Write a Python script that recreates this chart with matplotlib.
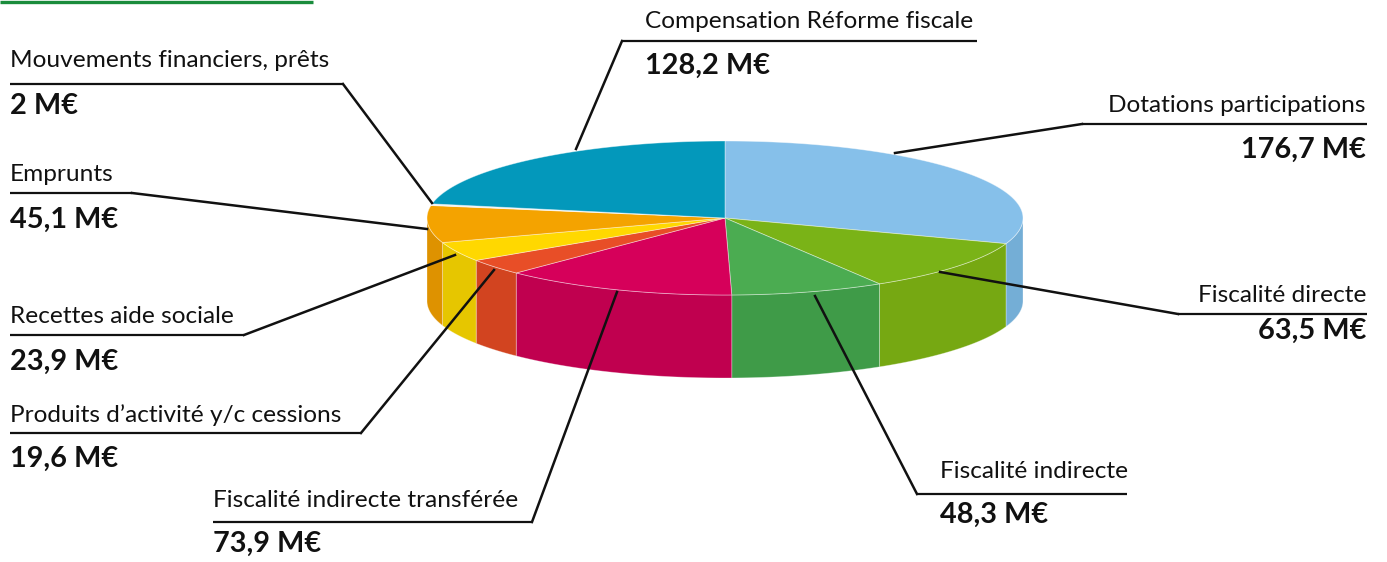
import matplotlib
matplotlib.use('Agg')
import matplotlib.pyplot as plt
import numpy as np
from matplotlib.patches import Polygon

# ---------------- data ----------------
categories = ["Dotations participations", "Fiscalité directe", "Fiscalité indirecte",
              "Fiscalité indirecte transférée", "Produits d’activité y/c cessions",
              "Recettes aide sociale", "Emprunts", "Mouvements financiers, prêts",
              "Compensation Réforme fiscale"]
values = [176.7, 63.5, 48.3, 73.9, 19.6, 23.9, 45.1, 2.0, 128.2]
value_labels = ["176,7 M€", "63,5 M€", "48,3 M€", "73,9 M€", "19,6 M€",
                "23,9 M€", "45,1 M€", "2 M€", "128,2 M€"]
top_colors = ["#86C0EA", "#7AB317", "#4BAC51", "#D6005A", "#E84E27",
              "#FFD800", "#F4A300", "#F2F2F2", "#0398BB"]
side_colors = ["#74AED6", "#76A812", "#3F9B48", "#C0004F", "#D24420",
               "#E6C600", "#DE9200", "#DDDDDD", "#02809E"]

# ---------------- layout ----------------
W, H = 1387, 562
cx, cy, rx, ry, depth = 725, 218, 298, 77, 83

# label layout: (text x, label baseline, value baseline, ha, underline x0, x1, underline y, anchor)
layout = [
    (1366, 112, 158, 'right', 1082, 1367, 124, (895, 153)),
    (1366, 302, 339, 'right', 1178, 1367, 314, (940, 272)),
    (940, 478, 523, 'left', 917, 1127, 494, (815, 296)),
    (213, 507, 552, 'left', 213, 532, 522, (617, 292)),
    (10, 422, 467, 'left', 10, 361, 433, (494, 270)),
    (10, 323, 370, 'left', 10, 244, 335, (455, 255)),
    (10, 181, 228, 'left', 10, 132, 193, (427, 229)),
    (10, 67, 114, 'left', 10, 343, 84, (432, 203)),
    (645, 28, 74, 'left', 622, 977, 41, (576, 149)),
]

fig = plt.figure(figsize=(W / 100, H / 100), dpi=100)
ax = fig.add_axes([0, 0, 1, 1])
ax.set_xlim(0, W)
ax.set_ylim(H, 0)
ax.axis('off')

total = float(sum(values))
cum = np.concatenate([[0], np.cumsum(values)])
t_start = 90 - 360 * cum[:-1] / total
t_end = 90 - 360 * cum[1:] / total


def ell(t, dy=0.0):
    t = np.radians(t)
    return np.column_stack([cx + rx * np.cos(t), cy - ry * np.sin(t) + dy])


# sides (front half: angles between -180 and 0)
for i in range(len(values)):
    a = max(t_end[i], -180)
    b = min(t_start[i], 0)
    if b <= a:
        continue
    ts = np.linspace(a, b, 80)
    top = ell(ts)
    bot = ell(ts[::-1], depth)
    ax.add_patch(Polygon(np.vstack([top, bot]), closed=True, facecolor=side_colors[i],
                         edgecolor=(1, 1, 1, 0.35), lw=0.6, zorder=2))

# tops
for i in range(len(values)):
    ts = np.linspace(t_start[i], t_end[i], 120)
    pts = np.vstack([[cx, cy], ell(ts)])
    ax.add_patch(Polygon(pts, closed=True, facecolor=top_colors[i],
                         edgecolor=(1, 1, 1, 0.45), lw=0.6, zorder=3))

# labels
lab_font = dict(family=['Lato', 'DejaVu Sans'], fontsize=17.6, color='#111111')
val_font = dict(family=['Lato', 'DejaVu Sans'], fontsize=20.8, fontweight='bold', color='#111111')
for i, (tx, yb, vb, ha, ux0, ux1, uy, anc) in enumerate(layout):
    ax.text(tx, yb, categories[i], ha=ha, va='baseline', zorder=5, **lab_font)
    ax.text(tx, vb, value_labels[i], ha=ha, va='baseline', zorder=5, **val_font)
    ax.plot([ux0, ux1], [uy, uy], color='#111111', lw=1.6, solid_capstyle='butt', zorder=5)
    jx = ux1 if ha == 'left' and anc[0] > ux1 else ux0
    if ha == 'left' and anc[0] < ux0:
        jx = ux0
    ax.plot([jx, anc[0]], [uy, anc[1]], color='#111111', lw=1.8, zorder=6)

# green rule at top-left
ax.plot([0, 313], [1.5, 1.5], color='#1A8C3C', lw=2.4, solid_capstyle='butt', zorder=5)

fig.savefig('out.png', dpi=100)
